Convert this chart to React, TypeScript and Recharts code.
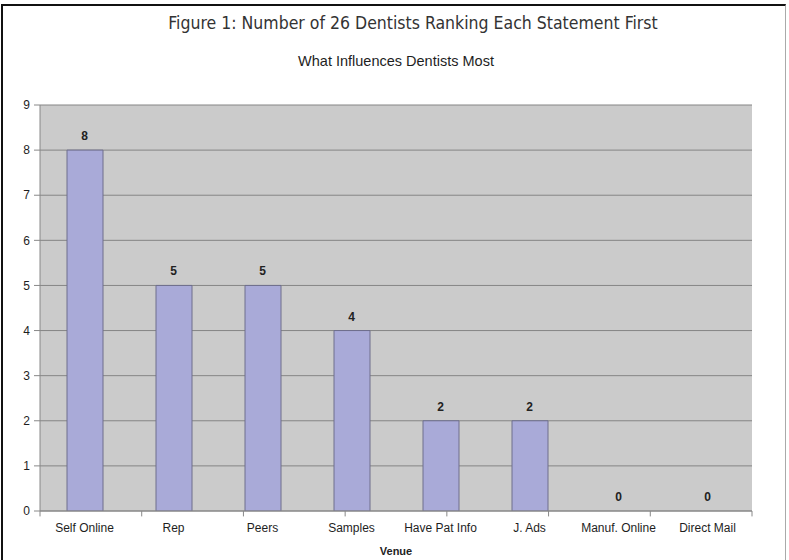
import React from "react";
import { ComposedChart, Bar, Line, XAxis, YAxis, CartesianGrid, LabelList, Label, ReferenceLine } from "recharts";

const venues = ["Self Online", "Rep", "Peers", "Samples", "Have Pat Info", "J. Ads", "Manuf. Online", "Direct Mail"];
const firstRankCounts = [8, 5, 5, 4, 2, 2, 0, 0];
const yTicks = [0, 1, 2, 3, 4, 5, 6, 7, 8, 9];
const boundaryTicks = [0, 1, 2, 3, 4, 5, 6, 7, 8];

const data = venues.map((venue, i) => ({ venue, count: firstRankCounts[i] }));

const sans = "'Liberation Sans', Arial, sans-serif";

export default function App() {
  return (
    <div style={{ position: "absolute", left: 0, top: 0, width: 789, height: 560, background: "#fff", fontFamily: sans }}>
      <div
        style={{
          position: "absolute", left: 1, top: 4, width: 785, height: 556, boxSizing: "border-box",
          borderTop: "2px solid #111", borderLeft: "2px solid #111", borderRight: "1px solid #aaa",
        }}
      />
      <div
        style={{
          position: "absolute", left: 413, top: 13, transform: "translateX(-50%)", whiteSpace: "nowrap",
          fontFamily: "'DejaVu Sans Condensed', 'Liberation Sans Narrow', sans-serif", fontStretch: "condensed",
          fontSize: 17.5, color: "#333",
        }}
      >
        Figure 1: Number of 26 Dentists Ranking Each Statement First
      </div>
      <div
        style={{
          position: "absolute", left: 396, top: 53, transform: "translateX(-50%)", whiteSpace: "nowrap",
          fontSize: 14.5, color: "#1e1e1e",
        }}
      >
        What Influences Dentists Most
      </div>
      <ComposedChart
        width={789}
        height={560}
        data={data}
        margin={{ top: 105, right: 37, left: 0, bottom: 19 }}
        barCategoryGap="30%"
        style={{ position: "absolute", left: 0, top: 0 }}
      >
        <CartesianGrid vertical={false} fill="#cbcbcb" stroke="#858585" strokeWidth={1} xAxisId="cat" />
        <XAxis xAxisId="edges" type="number" domain={[0, 8]} ticks={boundaryTicks} hide />
        <XAxis
          dataKey="venue"
          xAxisId="cat"
          height={30}
          tickLine={false}
          tickSize={6}
          tickMargin={6}
          axisLine={{ stroke: "#888" }}
          interval={0}
          tick={{ fontSize: 12, fill: "#1e1e1e", fontFamily: sans }}
        >
          <Label value="Venue" position="bottom" offset={6} style={{ fontSize: 11, fontWeight: "bold", fill: "#222", fontFamily: sans }} />
        </XAxis>
        <YAxis
          width={40}
          domain={[0, 9]}
          ticks={yTicks}
          interval={0}
          tickSize={6}
          tickMargin={4}
          allowDataOverflow
          axisLine={{ stroke: "#888" }}
          tickLine={{ stroke: "#888" }}
          tick={{ fontSize: 12, fill: "#1e1e1e", fontFamily: sans }}
        />
        {boundaryTicks.map((t) => (
          <ReferenceLine
            key={t}
            xAxisId="edges"
            segment={[{ x: t, y: 0 }, { x: t, y: -0.12 }]}
            ifOverflow="visible"
            stroke="#888"
          />
        ))}
        <Bar dataKey="count" xAxisId="cat" fill="#a9aad8" stroke="#6e6e8c" strokeWidth={1} barSize={36} isAnimationActive={false} />
        <Line dataKey="count" xAxisId="cat" stroke="none" dot={false} activeDot={false} isAnimationActive={false} legendType="none">
          <LabelList dataKey="count" position="top" offset={10} style={{ fontSize: 12, fontWeight: 600, fill: "#222", fontFamily: sans }} />
        </Line>
      </ComposedChart>
    </div>
  );
}
